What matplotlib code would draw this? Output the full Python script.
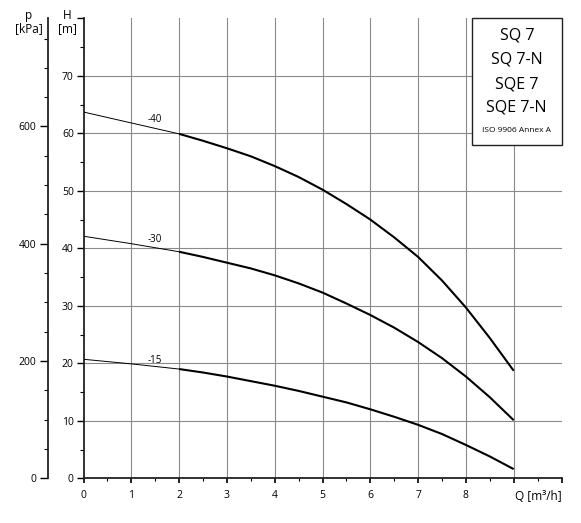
import matplotlib
matplotlib.use("Agg")
import matplotlib.pyplot as plt
from matplotlib.patches import Rectangle

plt.rcParams['font.family'] = ['Open Sans', 'DejaVu Sans']

# Data
q = [0, 1, 2, 2.5, 3, 3.5, 4, 4.5, 5, 5.5, 6, 6.5, 7, 7.5, 8, 8.5, 9]
h_40 = [63.7, 61.8, 59.9, 58.7, 57.4, 56.0, 54.3, 52.4, 50.2, 47.7, 45.0, 41.9, 38.5, 34.4, 29.7, 24.4, 18.7]
h_30 = [42.1, 40.8, 39.4, 38.5, 37.5, 36.5, 35.3, 33.9, 32.3, 30.4, 28.4, 26.2, 23.7, 20.9, 17.7, 14.1, 10.1]
h_15 = [20.7, 19.9, 19.0, 18.4, 17.7, 16.9, 16.1, 15.2, 14.2, 13.2, 12.0, 10.7, 9.3, 7.7, 5.8, 3.8, 1.6]
curve_labels = ["-40", "-30", "-15"]
x_ticklabels = ["0", "1", "2", "3", "4", "5", "6", "7", "8"]
h_ticks = [0, 10, 20, 30, 40, 50, 60, 70]
p_ticks = [0, 200, 400, 600]
box_lines = ["SQ 7", "SQ 7-N", "SQE 7", "SQE 7-N"]
box_note = "ISO 9906 Annex A"

W, H = 581, 523
fig = plt.figure(figsize=(W / 100, H / 100), dpi=100)
ax = fig.add_axes([83.5 / W, 1 - 478.3 / H, (561.5 - 83.5) / W, (478.3 - 18.3) / H])
ax.set_xlim(0, 10)
ax.set_ylim(0, 80)

for s in ['top', 'right']:
    ax.spines[s].set_visible(False)
for s in ['left', 'bottom']:
    ax.spines[s].set_linewidth(1.3)
    ax.spines[s].set_color('#222222')

# grid
for xv in range(1, 10):
    ax.axvline(xv, color='#8a8a8a', lw=0.8, zorder=1)
for yv in h_ticks[1:]:
    ax.axhline(yv, color='#8a8a8a', lw=0.8, zorder=1)

# x ticks
ax.set_xticks(list(range(0, 11)))
ax.set_xticklabels(x_ticklabels + ["", ""], fontsize=7.5)
ax.set_xticks([i + 0.5 for i in range(10)], minor=True)
ax.tick_params(axis='x', which='major', direction='out', length=3.5, width=1.2, pad=5)
ax.tick_params(axis='x', which='minor', direction='out', length=2, width=0.8)

# y ticks
ax.set_yticks(h_ticks + [80])
ax.set_yticklabels([str(t) for t in h_ticks] + [""], fontsize=7.5)
ax.set_yticks([5 + 10 * i for i in range(8)], minor=True)
ax.tick_params(axis='y', which='major', direction='out', length=5, width=1.0, pad=2)
ax.tick_params(axis='y', which='minor', direction='out', length=3, width=0.8)

# curves
for hv, lab, dy in [(h_40, curve_labels[0], 0.6), (h_30, curve_labels[1], 0.5), (h_15, curve_labels[2], 0.1)]:
    ax.plot(q[:3], hv[:3], color='black', lw=0.7, zorder=3)
    ax.plot(q[2:], hv[2:], color='black', lw=1.5, zorder=3, solid_capstyle='butt',
            solid_joinstyle='round')
    ax.text(1.5, hv[1] + (hv[2] - hv[1]) * 0.5 + dy, lab, fontsize=7,
            ha='center', va='bottom', zorder=4)

# axis labels
fig.text(67 / W, 1 - 9 / H, "H\n[m]", fontsize=8.5, ha='center', va='top', linespacing=1.05)
ax.text(10, -3.2, "Q [m³/h]", fontsize=8.5, ha='right', va='center')

# pressure axis
ax2 = ax.twinx()
ax2.set_ylim(0, 80 * 9.80665)
for s in ['top', 'right', 'bottom']:
    ax2.spines[s].set_visible(False)
ax2.spines['left'].set_visible(True)
ax2.spines['left'].set_position(('axes', (47.7 - 83.5) / (561.5 - 83.5)))
ax2.spines['left'].set_linewidth(1.3)
ax2.spines['left'].set_color('#222222')
ax2.yaxis.set_ticks_position('left')
ax2.yaxis.set_label_position('left')
ax2.set_yticks(p_ticks)
ax2.set_yticklabels([str(t) for t in p_ticks], fontsize=7.5)
ax2.set_yticks([50 * i for i in range(1, 16) if i % 4 != 0], minor=True)
ax2.tick_params(axis='y', which='major', direction='out', length=6, width=1.0, pad=2)
ax2.tick_params(axis='y', which='minor', direction='out', length=3, width=0.8)
fig.text(29 / W, 1 - 9 / H, "p\n[kPa]", fontsize=8.5, ha='center', va='top', linespacing=1.05)

# title box
bx0 = (472 - 83.5) / 47.8
by0 = (478.3 - 145) / 5.75
box = Rectangle((bx0, by0), 10 - bx0, 80 - by0, facecolor='white', edgecolor='#222222',
                lw=1.0, zorder=5, clip_on=False)
ax.add_patch(box)
xc = (bx0 + 10) / 2
ys = [35, 59, 84, 108]
for t, yp in zip(box_lines, ys):
    ax.text(xc, (478.3 - yp) / 5.75, t, fontsize=11.5, ha='center', va='center', zorder=6)
ax.text(xc, (478.3 - 131) / 5.75, box_note, fontsize=6, ha='center', va='center', zorder=6)

fig.savefig("out.png", dpi=100)
